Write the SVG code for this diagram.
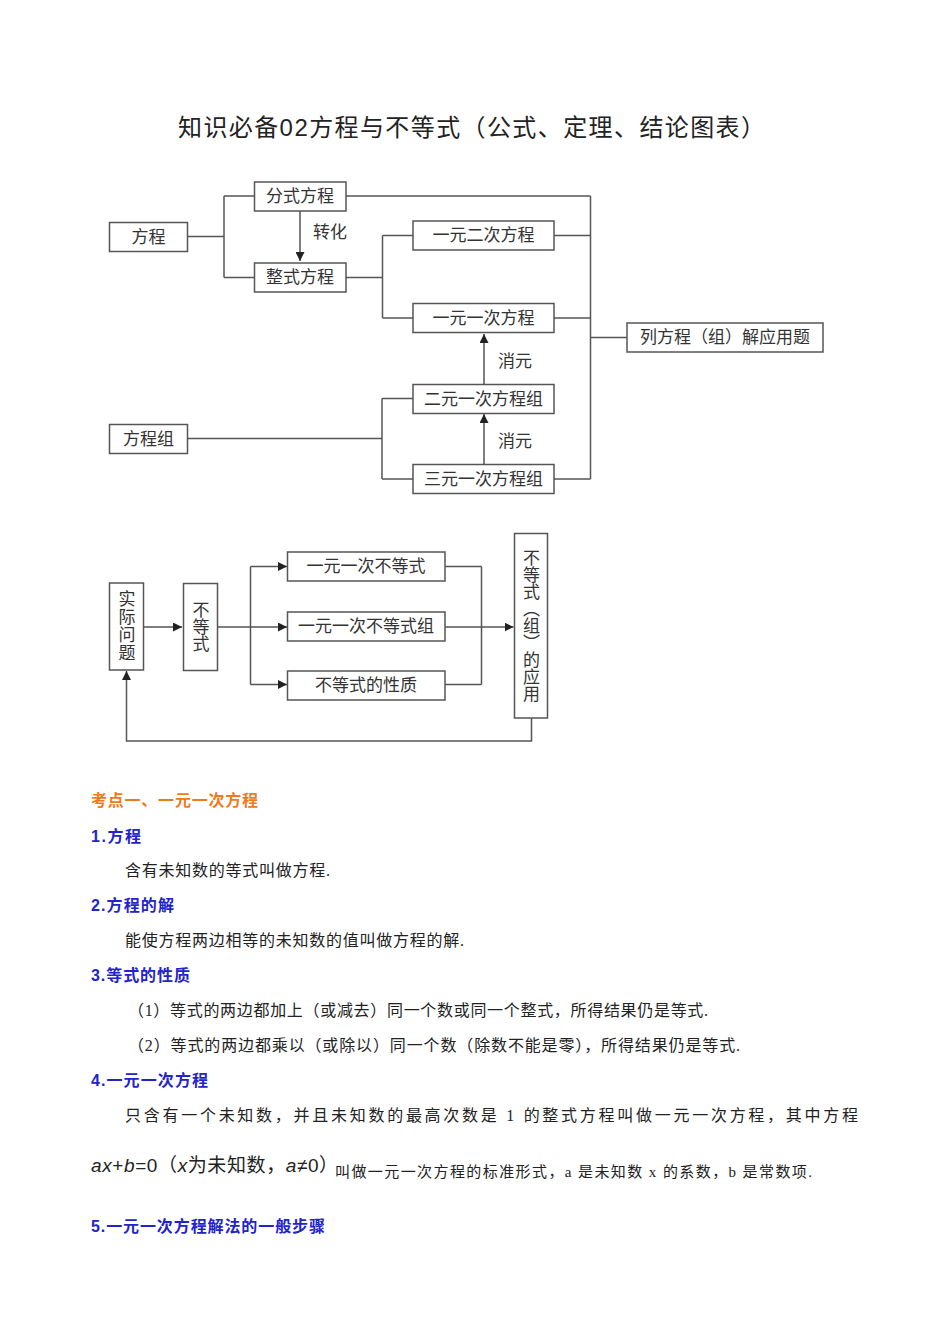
<svg xmlns="http://www.w3.org/2000/svg" width="950" height="1344" viewBox="0 0 950 1344">
<style>
.bx{fill:#fff;stroke:#555;stroke-width:1.5}
.ln{fill:none;stroke:#555;stroke-width:1.5}
.t{font-family:"Liberation Serif","Noto Sans CJK SC",serif;font-size:17px;fill:#333;dominant-baseline:central}
.c{text-anchor:middle}
.v{writing-mode:vertical-rl;text-anchor:middle;font-family:"Liberation Serif","Noto Sans CJK SC",serif;font-size:17px;fill:#333}
.h{font-family:"Liberation Sans","Noto Sans CJK SC",sans-serif;font-size:16px;font-weight:bold;fill:#2323cc}
.b{font-family:"Liberation Serif","Noto Sans CJK SC",serif;font-size:16px;fill:#222}
</style>
<defs>
<marker id="ah" viewBox="0 0 10 10" refX="10" refY="5" markerWidth="9" markerHeight="9" markerUnits="userSpaceOnUse" orient="auto">
<path d="M0,0 L10,5 L0,10 z" fill="#222"/>
</marker>
</defs>
<rect width="950" height="1344" fill="#fff"/>
<text x="178" y="136" textLength="587" lengthAdjust="spacing" font-family="Liberation Sans,Noto Sans CJK SC,sans-serif" font-size="24" fill="#222">知识必备02方程与不等式（公式、定理、结论图表）</text>

<g id="connectors">
<path class="ln" d="M187,236.5 H224 M224,196 V277.5 M224,196 H254 M224,277.5 H254"/>
<path class="ln" d="M300,211 V261" marker-end="url(#ah)"/>
<path class="ln" d="M346,277.5 H382.5 M382.5,235.5 V318 M382.5,235.5 H413 M382.5,318 H413"/>
<path class="ln" d="M346,196 H590.5 M554,235.5 H590.5 M554,318 H590.5 M554,479 H590.5 M590.5,196 V479 M590.5,337.5 H627"/>
<path class="ln" d="M187,438.5 H382 M382,398.5 V479 M382,398.5 H413 M382,479 H413"/>
<path class="ln" d="M484,384 V334" marker-end="url(#ah)"/>
<path class="ln" d="M484,464 V414" marker-end="url(#ah)"/>
<path class="ln" d="M143,627 H182" marker-end="url(#ah)"/>
<path class="ln" d="M217,627 H250.5 M250.5,566.5 V684.5"/>
<path class="ln" d="M250.5,566.5 H287" marker-end="url(#ah)"/>
<path class="ln" d="M250.5,627 H287" marker-end="url(#ah)"/>
<path class="ln" d="M250.5,684.5 H287" marker-end="url(#ah)"/>
<path class="ln" d="M445,566.5 H481.5 M445,684.5 H481.5 M481.5,566.5 V684.5"/>
<path class="ln" d="M445,627 H513.5" marker-end="url(#ah)"/>
<path class="ln" d="M531.5,718 V741 H126.5 V671" marker-end="url(#ah)"/>
<text class="t" x="313" y="232">转化</text>
<text class="t" x="498" y="361">消元</text>
<text class="t" x="498" y="441">消元</text>
</g>

<g id="n-fangcheng"><rect class="bx" x="109.5" y="222.5" width="78" height="29"/><text class="t c" x="148.5" y="237">方程</text></g>
<g id="n-fenshi"><rect class="bx" x="254.5" y="182" width="91.5" height="29"/><text class="t c" x="300" y="196.5">分式方程</text></g>
<g id="n-zhengshi"><rect class="bx" x="254.5" y="263" width="91.5" height="29"/><text class="t c" x="300" y="277.5">整式方程</text></g>
<g id="n-yiyuanerci"><rect class="bx" x="413" y="221" width="141" height="29"/><text class="t c" x="483.5" y="235.5">一元二次方程</text></g>
<g id="n-yiyuanyici"><rect class="bx" x="413" y="303.5" width="141" height="29"/><text class="t c" x="483.5" y="318">一元一次方程</text></g>
<g id="n-eryuan"><rect class="bx" x="413" y="384.5" width="141" height="29"/><text class="t c" x="483.5" y="399">二元一次方程组</text></g>
<g id="n-sanyuan"><rect class="bx" x="413" y="464.5" width="141" height="29"/><text class="t c" x="483.5" y="479">三元一次方程组</text></g>
<g id="n-fangchengzu"><rect class="bx" x="109.5" y="424.5" width="78" height="29"/><text class="t c" x="148.5" y="439">方程组</text></g>
<g id="n-lie"><rect class="bx" x="627" y="323" width="196" height="29"/><text class="t c" x="725" y="337.5">列方程（组）解应用题</text></g>

<g id="n-shiji"><rect class="bx" x="109.5" y="583" width="34" height="87"/><text class="v" x="125" y="626.5" letter-spacing="1">实际问题</text></g>
<g id="n-budengshi"><rect class="bx" x="183.5" y="583.5" width="34" height="87"/><text class="v" x="199" y="627">不等式</text></g>
<g id="n-bdsa"><rect class="bx" x="287.5" y="552" width="157.5" height="29"/><text class="t c" x="366" y="566.5">一元一次不等式</text></g>
<g id="n-bdsb"><rect class="bx" x="287.5" y="612" width="157.5" height="29"/><text class="t c" x="366" y="626.5">一元一次不等式组</text></g>
<g id="n-bdsc"><rect class="bx" x="287.5" y="671" width="157.5" height="29"/><text class="t c" x="366" y="685.5">不等式的性质</text></g>
<g id="n-yingyong"><rect class="bx" x="514.5" y="533.5" width="33" height="184.5"/><text class="v" x="529.5" y="626">不等式（组）的应用</text></g>

<g id="body">
<text x="91" y="806" textLength="167" lengthAdjust="spacing" font-family="Liberation Sans,Noto Sans CJK SC,sans-serif" font-size="16" font-weight="bold" fill="#f07a1a">考点一、一元一次方程</text>
<text class="h" x="91" y="842" textLength="50" lengthAdjust="spacing">1.方程</text>
<text class="b" x="125" y="876" textLength="205" lengthAdjust="spacing">含有未知数的等式叫做方程.</text>
<text class="h" x="91" y="911" textLength="83" lengthAdjust="spacing">2.方程的解</text>
<text class="b" x="125" y="946" textLength="339" lengthAdjust="spacing">能使方程两边相等的未知数的值叫做方程的解.</text>
<text class="h" x="91" y="981" textLength="99" lengthAdjust="spacing">3.等式的性质</text>
<text class="b" x="128" y="1016" textLength="580" lengthAdjust="spacing">（1）等式的两边都加上（或减去）同一个数或同一个整式，所得结果仍是等式.</text>
<text class="b" x="128" y="1051" textLength="612" lengthAdjust="spacing">（2）等式的两边都乘以（或除以）同一个数（除数不能是零），所得结果仍是等式.</text>
<text class="h" x="91" y="1086" textLength="117" lengthAdjust="spacing">4.一元一次方程</text>
<text class="b" x="125" y="1121" textLength="733" lengthAdjust="spacing">只含有一个未知数，并且未知数的最高次数是 1 的整式方程叫做一元一次方程，其中方程</text>
<text x="91" y="1172" font-family="Liberation Sans,Noto Sans CJK SC,sans-serif" font-size="19" fill="#222" letter-spacing="0.6"><tspan font-style="italic">ax</tspan>+<tspan font-style="italic">b</tspan>=0（<tspan font-style="italic">x</tspan>为未知数，<tspan font-style="italic">a</tspan>≠0）</text>
<text x="335" y="1177" textLength="477" lengthAdjust="spacing" font-family="Liberation Serif,Noto Sans CJK SC,serif" font-size="15" fill="#222">叫做一元一次方程的标准形式，a 是未知数 x 的系数，b 是常数项.</text>
<text class="h" x="91" y="1232" textLength="234" lengthAdjust="spacing">5.一元一次方程解法的一般步骤</text>
</g>
</svg>
